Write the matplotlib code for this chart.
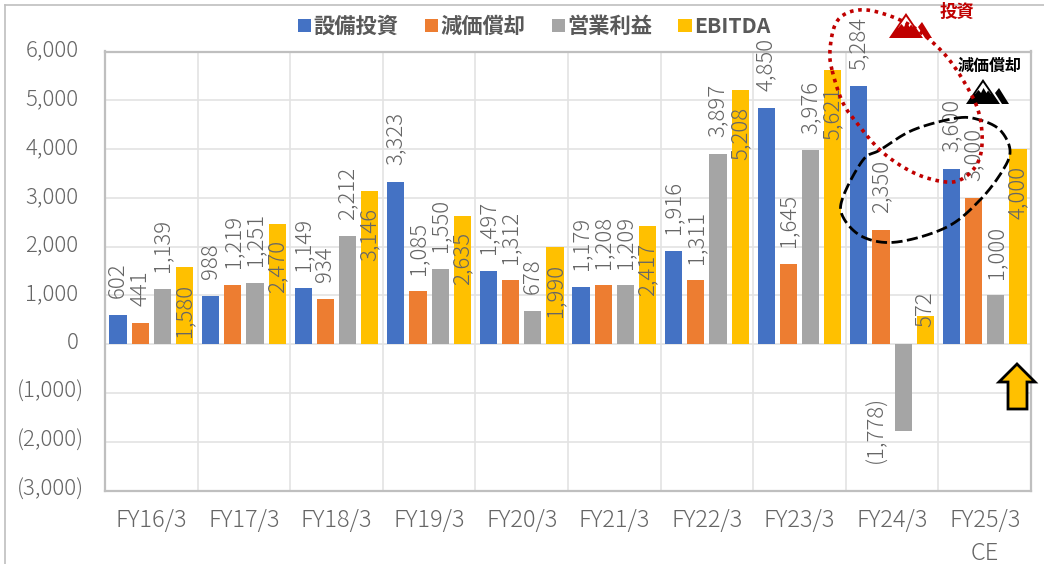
import numpy as np
import matplotlib
matplotlib.use("Agg")
import matplotlib.pyplot as plt
from matplotlib.patches import Polygon
from matplotlib.transforms import ScaledTranslation

plt.rcParams['font.family'] = ['Noto Sans CJK JP', 'DejaVu Sans']

categories = ['FY16/3', 'FY17/3', 'FY18/3', 'FY19/3', 'FY20/3',
              'FY21/3', 'FY22/3', 'FY23/3', 'FY24/3', 'FY25/3\nCE']
capex = [602, 988, 1149, 3323, 1497, 1179, 1916, 4850, 5284, 3600]
depreciation = [441, 1219, 934, 1085, 1312, 1208, 1311, 1645, 2350, 3000]
op_profit = [1139, 1251, 2212, 1550, 678, 1209, 3897, 3976, -1778, 1000]
ebitda = [1580, 2470, 3146, 2635, 1990, 2417, 5208, 5621, 572, 4000]
series_names = ['設備投資', '減価償却', '営業利益', 'EBITDA']
colors = ['#4472c4', '#ed7d31', '#a5a5a5', '#ffc000']
y_ticks = [-3000, -2000, -1000, 0, 1000, 2000, 3000, 4000, 5000, 6000]

W, H = 1044, 564
GRAY = '#666666'


def fmt(v):
    return f'({-v:,})' if v < 0 else f'{v:,}'


def smooth_closed(pts, n=20):
    # 閉じた曲線を Catmull-Rom で滑らかにする
    pts = np.array(pts, dtype=float)
    out = []
    for i in range(len(pts)):
        p0, p1, p2, p3 = pts[i - 1], pts[i], pts[(i + 1) % len(pts)], pts[(i + 2) % len(pts)]
        for t in np.linspace(0, 1, n, endpoint=False):
            out.append(0.5 * (2 * p1 + (p2 - p0) * t + (2 * p0 - 5 * p1 + 4 * p2 - p3) * t**2
                              + (3 * p1 - p0 - 3 * p2 + p3) * t**3))
    out.append(out[0])
    return np.array(out)


def mountain(ov, x0, base, color):
    # x0 = 左下, 大きい山と小さい山, 雪は白抜き
    ov.add_patch(Polygon([(x0, base), (x0 + 17, base - 25), (x0 + 34, base)], fc=color, lw=0))
    ov.add_patch(Polygon([(x0 + 17, base - 21.5), (x0 + 9, base - 10), (x0 + 25, base - 10)],
                         fc='white', lw=0))
    zigzag = [(8, -9), (12.5, -14), (15, -11), (17.5, -16), (20.5, -11), (22, -13.5), (26, -9)]
    ov.add_patch(Polygon([(x0 + a, base + b) for a, b in zigzag], fc=color, lw=0))
    ov.add_patch(Polygon([(x0 + 29, base - 11), (x0 + 33, base - 16), (x0 + 43, base),
                          (x0 + 36, base)], fc=color, lw=0))


fig = plt.figure(figsize=(W / 100, H / 100), dpi=100)
ax = fig.add_axes([105 / W, 1 - 490.5 / H, 926 / W, 439 / H])

x = np.arange(len(categories))
bar_w = 0.187
step = 0.24
all_series = [capex, depreciation, op_profit, ebitda]

for i, (vals, name, c) in enumerate(zip(all_series, series_names, colors)):
    pos = x + (i - 1.5) * step
    ax.bar(pos, vals, width=bar_w, color=c, label=name, zorder=3)
    for px, v in zip(pos, vals):
        dx, dy, va = 0, 12, 'bottom'
        if name == 'EBITDA':
            dy, va = -12, 'top'
            if v == 572:
                dy, va = -8, 'bottom'
        if v < 0:
            dx, dy, va = -19, 25.5, 'top'
        ax.annotate(fmt(v), (px, v), xytext=(dx, dy), textcoords='offset points',
                    rotation=90, ha='center', va=va, fontsize=16, color=GRAY,
                    fontweight='light', zorder=4, annotation_clip=False)

ax.set_xlim(-0.5, len(categories) - 0.5)
ax.set_ylim(-3000, 6000)
ax.set_yticks(y_ticks)
ax.set_yticklabels([fmt(v) for v in y_ticks], fontsize=16, color=GRAY, fontweight='light')
ax.set_xticks(x)
ax.set_xticklabels(categories, fontsize=17, color=GRAY, fontweight='light', linespacing=1.42)
ax.tick_params(axis='y', length=0, pad=19)
ax.tick_params(axis='x', length=0, pad=12.5)
ax.set_xticks(x[:-1] + 0.5, minor=True)
ax.tick_params(axis='x', which='minor', length=0)
ax.grid(True, axis='y', color='#e3e3e3', lw=1.2, zorder=0)
ax.grid(True, axis='x', which='minor', color='#e3e3e3', lw=1.2, zorder=0)
ax.grid(False, axis='x', which='major')
ax.set_axisbelow(True)
for s in ax.spines.values():
    s.set_color('#bfbfbf')
    s.set_linewidth(1.6)

# Noto は縦位置が少し下がるので y 目盛を持ち上げる, 括弧付きは数字を揃えるため右へ
for lab, v in zip(ax.get_yticklabels(), y_ticks):
    shift_x = 5 / 100 if v < 0 else 0
    shift = ScaledTranslation(shift_x, 2.5 / 72, fig.dpi_scale_trans)
    lab.set_transform(lab.get_transform() + shift)

ax.legend(loc='center', bbox_to_anchor=(534 / W, 1 - 26.5 / H), bbox_transform=fig.transFigure,
          ncol=4, frameon=False, handlelength=0.62, handleheight=0.62, handletextpad=0.1,
          columnspacing=1.25, borderpad=0,
          prop={'size': 15.3, 'weight': 'bold'}, labelcolor='#595959')

# 吹き出しなどの書き込み（ピクセル座標）
ov = fig.add_axes([0, 0, 1, 1], facecolor='none')
ov.set_xlim(0, W)
ov.set_ylim(H, 0)
ov.axis('off')

ov.plot([5, 5], [H, 5], color='#bfbfbf', lw=1.2)
ov.plot([5, W], [5, 5], color='#bfbfbf', lw=1.2)

black_pts = [(957, 118), (980, 120), (1000, 130), (1010, 150), (1003, 170), (980, 200), (947, 227),
             (897, 242), (863, 237), (843, 217), (843, 197), (863, 160), (880, 150), (913, 130)]
curve = smooth_closed(black_pts)
ov.plot(curve[:, 0], curve[:, 1], color='black', lw=2, ls=(0, (4, 1.6)))

red_pts = [(832, 70), (830, 50), (835, 25), (847, 13), (867, 10), (893, 17), (913, 27), (930, 40),
           (947, 57), (963, 80), (977, 107), (982, 133), (980, 157), (970, 173), (953, 182),
           (927, 178), (903, 167), (880, 150), (860, 127), (843, 103)]
curve = smooth_closed(red_pts)
ov.plot(curve[:, 0], curve[:, 1], color='#c00000', lw=2.6, ls=(0, (1, 1.3)))

mountain(ov, 889, 38, '#c00000')
mountain(ov, 966, 104, 'black')
ov.text(957.5, 12, '投資', color='#c00000', fontsize=12.5, fontweight='bold', ha='center', va='center')
ov.text(989.5, 66, '減価償却', color='black', fontsize=11.5, fontweight='bold', ha='center', va='center')

ov.add_patch(Polygon([(1017, 364), (999, 382), (1008, 382), (1008, 409), (1027, 409),
                      (1027, 382), (1035, 382)], closed=True, fc='#ffc000', ec='black', lw=2,
                     clip_on=False))

fig.savefig('out.png', dpi=100)
